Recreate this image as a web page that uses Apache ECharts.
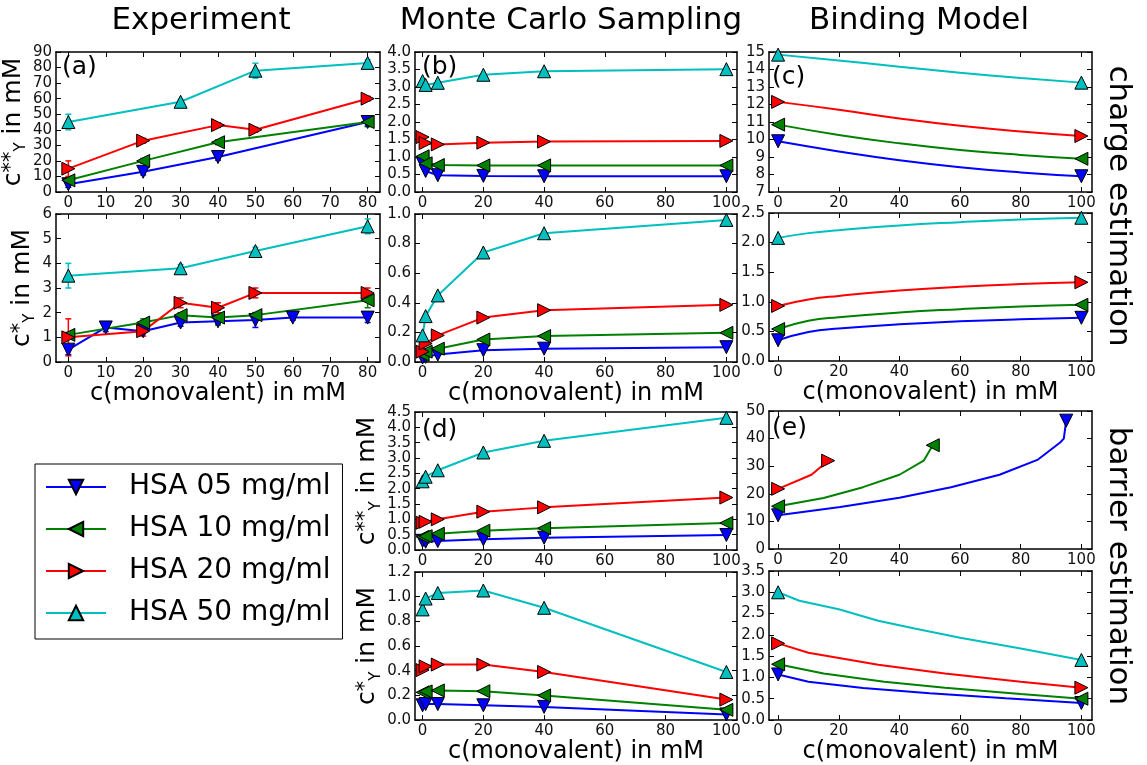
<!DOCTYPE html>
<html>
<head>
<meta charset="utf-8">
<script src="https://cdn.jsdelivr.net/npm/echarts@6/dist/echarts.min.js"></script>
<style>html,body{margin:0;padding:0;background:#fff}#main{width:1147px;height:765px}</style>
</head>
<body>
<div id="main"></div>
<script>
"use strict";
var FONT = "DejaVu Sans";
var seriesNames = ["HSA 05 mg/ml", "HSA 10 mg/ml", "HSA 20 mg/ml", "HSA 50 mg/ml"];
var seriesColors = ["#0000ff", "#008000", "#ff0000", "#00bfbf"];
// triangles: down, left, right, up
var seriesSymbols = ["path://M0,0L10,0L5,10Z", "path://M10,0L10,10L0,5Z", "path://M0,0L10,5L0,10Z", "path://M5,0L10,10L0,10Z"];

// Experiment, c**_Y (a)
var expA_05 = [[0,5],[20,13],[40,22.5],[80,45]];
var expA_10 = [[0,7.5],[20,20],[40,32],[80,45]];
var expA_20 = [[0,15],[20,33],[40,43],[50,40],[80,60]];
var expA_50 = [[0,45],[30,58],[50,78],[80,83]];
var expAErr_05 = [2,2,2,2.5];
var expAErr_10 = [2,1.5,1.5,3];
var expAErr_20 = [5,1.5,1.5,1.5,1.5];
var expAErr_50 = [5,1.5,4.8,2];
// Experiment, c*_Y
var expB_05 = [[0,0.5],[10,1.4],[20,1.25],[30,1.6],[40,1.65],[50,1.7],[60,1.8],[80,1.8]];
var expB_10 = [[0,1.1],[20,1.6],[30,1.9],[40,1.8],[50,1.9],[80,2.5]];
var expB_20 = [[0,1.0],[20,1.25],[30,2.4],[40,2.2],[50,2.8],[80,2.8]];
var expB_50 = [[0,3.5],[30,3.8],[50,4.5],[80,5.5]];
var expBErr_05 = [0.2,0.17,0.1,0.15,0.1,0.3,0.1,0.2];
var expBErr_10 = [0.1,0.15,0.1,0.3,0.1,0.3];
var expBErr_20 = [0.75,0.2,0.2,0.2,0.2,0.2];
var expBErr_50 = [0.5,0.15,0.15,0.3];

// Monte Carlo, charge estimation (b)
var mcB_05 = [[0,0.82],[1,0.6],[5,0.48],[20,0.46],[40,0.45],[100,0.45]];
var mcB_10 = [[0,1.02],[1,0.82],[5,0.77],[20,0.76],[40,0.76],[100,0.76]];
var mcB_20 = [[0,1.57],[1,1.4],[5,1.36],[20,1.41],[40,1.44],[100,1.46]];
var mcB_50 = [[0,3.17],[1,3.06],[5,3.12],[20,3.35],[40,3.45],[100,3.51]];
var mcC_05 = [[0,0.03],[1,0.035],[5,0.05],[20,0.08],[40,0.09],[100,0.1]];
var mcC_10 = [[0,0.05],[1,0.07],[5,0.09],[20,0.152],[40,0.175],[100,0.197]];
var mcC_20 = [[0,0.07],[1,0.125],[5,0.18],[20,0.3],[40,0.35],[100,0.386]];
var mcC_50 = [[0,0.18],[1,0.31],[5,0.45],[20,0.74],[40,0.87],[100,0.96]];
// Monte Carlo, barrier estimation (d)
var mcD_05 = [[0,0.3],[1,0.27],[5,0.29],[20,0.35],[40,0.4],[100,0.49]];
var mcD_10 = [[0,0.43],[1,0.45],[5,0.53],[20,0.63],[40,0.71],[100,0.88]];
var mcD_20 = [[0,0.89],[1,0.92],[5,1.0],[20,1.25],[40,1.39],[100,1.71]];
var mcD_50 = [[0,2.24],[1,2.39],[5,2.6],[20,3.18],[40,3.56],[100,4.31]];
var mcE_05 = [[0,0.12],[1,0.13],[5,0.13],[20,0.12],[40,0.107],[100,0.046]];
var mcE_10 = [[0,0.225],[1,0.232],[5,0.24],[20,0.234],[40,0.2],[100,0.083]];
var mcE_20 = [[0,0.405],[1,0.435],[5,0.45],[20,0.45],[40,0.39],[100,0.166]];
var mcE_50 = [[0,0.897],[1,0.985],[5,1.03],[20,1.05],[40,0.91],[100,0.39]];

// Binding model, charge estimation (c)
var bmA_05 = [[0,9.9],[20,9.32],[40,8.82],[60,8.42],[80,8.12],[100,7.9]];
var bmA_10 = [[0,10.85],[20,10.26],[40,9.78],[60,9.4],[80,9.12],[100,8.9]];
var bmA_20 = [[0,12.15],[20,11.7],[40,11.2],[60,10.78],[80,10.46],[100,10.2]];
var bmA_50 = [[0,14.85],[20,14.52],[40,14.16],[60,13.82],[80,13.52],[100,13.25]];
var bmB_05 = [[0,0.35],[10,0.49],[20,0.55],[40,0.62],[60,0.67],[80,0.705],[100,0.73]];
var bmB_10 = [[0,0.54],[10,0.68],[20,0.74],[40,0.82],[60,0.875],[80,0.92],[100,0.95]];
var bmB_20 = [[0,0.93],[10,1.04],[20,1.1],[40,1.19],[60,1.255],[80,1.3],[100,1.33]];
var bmB_50 = [[0,2.08],[10,2.16],[20,2.21],[40,2.29],[60,2.345],[80,2.39],[100,2.42]];
// Binding model, barrier estimation (e)
var bmC_05 = [[0,12.2],[20.5,15.2],[40,18.6],[57,22.4],[73,26.9],[85.7,32.4],[93,38.6],[94.2,40],[95,46.5]];
var bmC_10 = [[0,15.5],[15,18.5],[28,22.4],[40,26.9],[48,32],[51,37.6]];
var bmC_20 = [[0,21.8],[11,26.9],[16.5,32]];
var bmC_50 = [[0,-1.2]];
var bmD_05 = [[0,1.07],[10,0.9],[28,0.75],[50,0.63],[75,0.51],[100,0.4]];
var bmD_10 = [[0,1.31],[15,1.09],[35,0.9],[55,0.76],[80,0.61],[100,0.5]];
var bmD_20 = [[0,1.8],[10,1.58],[33,1.3],[55,1.09],[80,0.9],[100,0.76]];
var bmD_50 = [[0,3.0],[7,2.8],[20,2.6],[33,2.33],[45,2.15],[60,1.93],[80,1.68],[100,1.41]];

var ticks80 = [0,10,20,30,40,50,60,70,80];
var ticks100 = [0,20,40,60,80,100];

var yNameDouble = "{c|c}{s|**}{y|Y}{t| in mM}";
var yNameSingle = "{c|c}{s|*}{y|Y}{t| in mM}";

var panels = [
    {box:[56,52,324,140], x:[-3.3,83.3], xt:ticks80, y:[0,90,10], dec:0, lines:[expA_05,expA_10,expA_20,expA_50], errs:[expAErr_05,expAErr_10,expAErr_20,expAErr_50], yName:yNameDouble, yGap:21},
    {box:[56,214,324,148], x:[-3.3,83.3], xt:ticks80, y:[0,6,1], dec:0, lines:[expB_05,expB_10,expB_20,expB_50], errs:[expBErr_05,expBErr_10,expBErr_20,expBErr_50], yName:yNameSingle, yGap:21, xName:true},
    {box:[415,52,322,140], x:[-2.5,103.5], xt:ticks100, y:[0,4,0.5], dec:1, lines:[mcB_05,mcB_10,mcB_20,mcB_50]},
    {box:[415,214,322,148], x:[-2.5,103.5], xt:ticks100, y:[0,1,0.2], dec:1, lines:[mcC_05,mcC_10,mcC_20,mcC_50], xName:true},
    {box:[415,412,322,138], x:[-2.5,103.5], xt:ticks100, y:[0,4.5,0.5], dec:1, lines:[mcD_05,mcD_10,mcD_20,mcD_50], yName:yNameDouble, yGap:29},
    {box:[415,572,322,149], x:[-2.5,103.5], xt:ticks100, y:[0,1.2,0.2], dec:1, lines:[mcE_05,mcE_10,mcE_20,mcE_50], yName:yNameSingle, yGap:29, xName:true},
    {box:[769,52,323,140], x:[-3,103.5], xt:ticks100, y:[7,15,1], dec:0, lines:[bmA_05,bmA_10,bmA_20,bmA_50], ends:true, smooth:true},
    {box:[769,213,323,148], x:[-3,103.5], xt:ticks100, y:[0,2.5,0.5], dec:1, lines:[bmB_05,bmB_10,bmB_20,bmB_50], ends:true, smooth:true, xName:true},
    {box:[769,411,323,138], x:[-3,103.5], xt:ticks100, y:[0,50,10], dec:0, lines:[bmC_05,bmC_10,bmC_20,bmC_50], ends:true},
    {box:[769,571,323,149], x:[-3,103.5], xt:ticks100, y:[0,3.5,0.5], dec:1, lines:[bmD_05,bmD_10,bmD_20,bmD_50], ends:true, xName:true}
];

var letters = [["(a)",62,67],["(b)",422,67],["(c)",772,77],["(d)",422,430],["(e)",772,428]];

var axisLineStyle = {color:"#000", width:1.5};
var tickStyle = {color:"#000", width:1};
var labelStyle = {fontSize:15, color:"#111", fontFamily:FONT, margin:4};
var nameRich = {
    c:{fontSize:25, fontFamily:FONT, color:"#000"},
    s:{fontSize:21, fontFamily:FONT, color:"#000", verticalAlign:"top"},
    y:{fontSize:15, fontFamily:FONT, color:"#000", verticalAlign:"bottom", padding:[0,0,-3,0]},
    t:{fontSize:25, fontFamily:FONT, color:"#000"}
};

var grids = [], xAxes = [], yAxes = [], series = [];

panels.forEach(function(p, i) {
    grids.push({left:p.box[0], top:p.box[1], width:p.box[2], height:p.box[3], containLabel:false});
    var xb = {
        type:"value", gridIndex:i, min:p.x[0], max:p.x[1],
        axisLine:{onZero:false, lineStyle:axisLineStyle},
        axisTick:{inside:true, length:5, customValues:p.xt, lineStyle:tickStyle},
        axisLabel:Object.assign({customValues:p.xt}, labelStyle),
        splitLine:{show:false}
    };
    if (p.xName) {
        xb.name = "c(monovalent) in mM";
        xb.nameLocation = "middle";
        xb.nameGap = 15;
        xb.nameTextStyle = {fontSize:24, fontFamily:FONT, color:"#000"};
    }
    xAxes.push(xb);
    xAxes.push({
        type:"value", gridIndex:i, min:p.x[0], max:p.x[1], position:"top",
        axisLine:{onZero:false, lineStyle:axisLineStyle},
        axisTick:{inside:true, length:5, customValues:p.xt, lineStyle:tickStyle},
        axisLabel:{show:false}, splitLine:{show:false}
    });
    var yl = {
        type:"value", gridIndex:i, min:p.y[0], max:p.y[1], interval:p.y[2],
        axisLine:{onZero:false, lineStyle:axisLineStyle},
        axisTick:{inside:true, length:5, lineStyle:tickStyle},
        axisLabel:Object.assign({formatter:function(v){ return v.toFixed(p.dec); }}, labelStyle),
        splitLine:{show:false}
    };
    if (p.yName) {
        yl.name = p.yName;
        yl.nameLocation = "middle";
        yl.nameRotate = 90;
        yl.nameGap = p.yGap;
        yl.nameTextStyle = {rich:nameRich};
    }
    yAxes.push(yl);
    yAxes.push({
        type:"value", gridIndex:i, min:p.y[0], max:p.y[1], interval:p.y[2], position:"right",
        axisLine:{onZero:false, lineStyle:axisLineStyle},
        axisTick:{inside:true, length:5, lineStyle:tickStyle},
        axisLabel:{show:false}, splitLine:{show:false}
    });

    p.lines.forEach(function(pts, s) {
        var color = seriesColors[s];
        if (p.errs) {
            var err = p.errs[s];
            series.push({
                type:"custom", name:"err", xAxisIndex:2*i, yAxisIndex:2*i, z:1, silent:true,
                data:pts.map(function(d, k){ return [d[0], d[1], err[k]]; }),
                renderItem:function(params, api) {
                    var x = api.value(0), y = api.value(1), e = api.value(2);
                    var a = api.coord([x, y + e]), b = api.coord([x, y - e]);
                    var st = {stroke:color, lineWidth:1.5};
                    return {type:"group", children:[
                        {type:"line", shape:{x1:a[0], y1:a[1], x2:b[0], y2:b[1]}, style:st},
                        {type:"line", shape:{x1:a[0]-3, y1:a[1], x2:a[0]+3, y2:a[1]}, style:st},
                        {type:"line", shape:{x1:b[0]-3, y1:b[1], x2:b[0]+3, y2:b[1]}, style:st}
                    ]};
                }
            });
        }
        var data = pts;
        if (p.ends) {
            data = pts.map(function(d, k) {
                return (k === 0 || k === pts.length - 1) ? d : {value:d, symbol:"none"};
            });
        }
        series.push({
            type:"line", name:seriesNames[s], xAxisIndex:2*i, yAxisIndex:2*i,
            data:data, smooth:p.smooth ? 0.5 : false,
            symbol:seriesSymbols[s], symbolSize:13, showAllSymbol:true,
            lineStyle:{color:color, width:2},
            itemStyle:{color:color, borderColor:"#000", borderWidth:1},
            z:2
        });
    });
});

var bigFont = "31px '" + FONT + "'";
var graphics = [
    {type:"text", x:201, y:21, style:{text:"Experiment", font:bigFont, fill:"#000", align:"center", verticalAlign:"middle"}},
    {type:"text", x:571, y:21, style:{text:"Monte Carlo Sampling", font:bigFont, fill:"#000", align:"center", verticalAlign:"middle"}},
    {type:"text", x:919, y:21, style:{text:"Binding Model", font:bigFont, fill:"#000", align:"center", verticalAlign:"middle"}},
    {type:"text", x:1118, y:206, rotation:-Math.PI/2, style:{text:"charge estimation", font:bigFont, fill:"#000", align:"center", verticalAlign:"middle"}},
    {type:"text", x:1118, y:566, rotation:-Math.PI/2, style:{text:"barrier estimation", font:bigFont, fill:"#000", align:"center", verticalAlign:"middle"}}
];
letters.forEach(function(l) {
    graphics.push({type:"text", x:l[1], y:l[2], z:10, style:{text:l[0], font:"25px '" + FONT + "'", fill:"#000", align:"left", verticalAlign:"middle"}});
});

var chart = echarts.init(document.getElementById("main"), null, {renderer:"canvas"});
chart.setOption({
    animation:false,
    backgroundColor:"#fff",
    grid:grids,
    xAxis:xAxes,
    yAxis:yAxes,
    series:series,
    graphic:graphics,
    legend:{
        orient:"vertical", left:35, top:464, data:seriesNames,
        itemWidth:60, itemHeight:18, itemGap:14, padding:[9,12,12,10],
        borderColor:"#000", borderWidth:1, backgroundColor:"#fff",
        selectedMode:false,
        textStyle:{fontSize:28, fontFamily:FONT, color:"#000", padding:[0,0,0,18]}
    }
});
</script>
</body>
</html>
